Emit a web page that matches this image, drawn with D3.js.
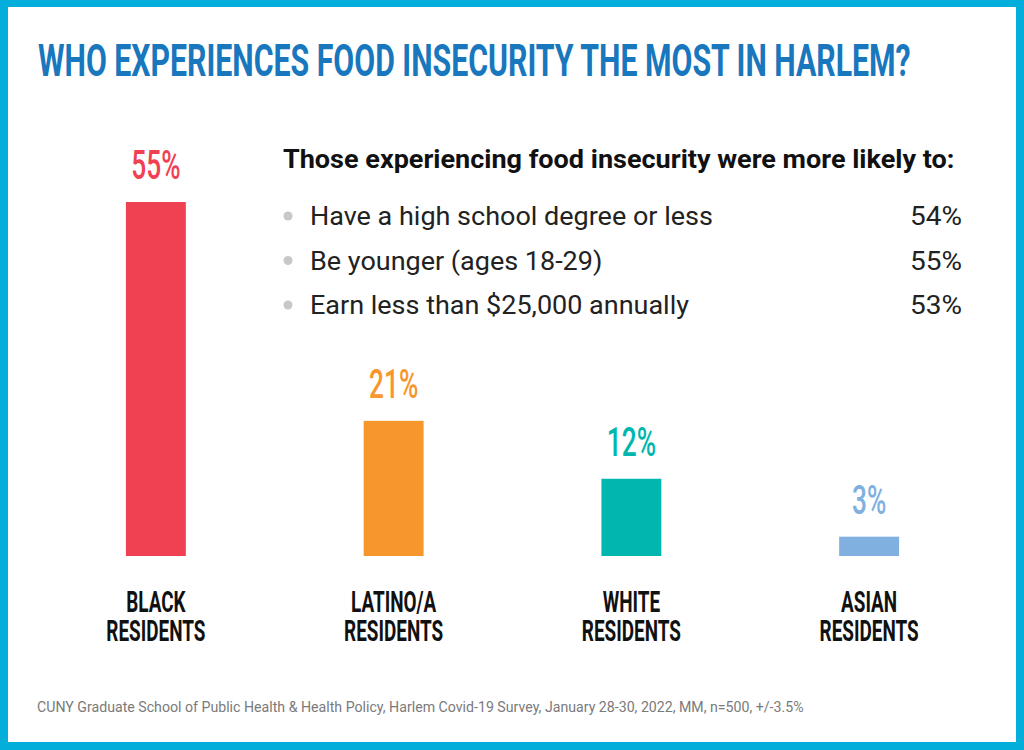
<!DOCTYPE html>
<html>
<head>
<meta charset="utf-8">
<script src="https://cdn.jsdelivr.net/npm/d3@7"></script>
<style>
  html, body { margin: 0; padding: 0; background: #fff; }
  svg { display: block; }
</style>
</head>
<body>
<script>
// ---- data ----
const categories = ["BLACK RESIDENTS", "LATINO/A RESIDENTS", "WHITE RESIDENTS", "ASIAN RESIDENTS"];
const values = [55, 21, 12, 3];
const barColors = ["#EF4152", "#F7962D", "#00B6AE", "#7FB0DF"];
const likelyItems = ["Have a high school degree or less", "Be younger (ages 18-29)", "Earn less than $25,000 annually"];
const likelyValues = [54, 55, 53];
const titleText = "WHO EXPERIENCES FOOD INSECURITY THE MOST IN HARLEM?";
const headingText = "Those experiencing food insecurity were more likely to:";
const sourceText = "CUNY Graduate School of Public Health & Health Policy, Harlem Covid-19 Survey, January 28-30, 2022, MM, n=500, +/-3.5%";

// ---- layout ----
const W = 1024, H = 750;
const FONT = "Roboto, 'Liberation Sans', sans-serif";
const svg = d3.select("body").append("svg").attr("width", W).attr("height", H);

// fit a left-anchored text to a target width by horizontal scaling
function fitText(sel, x0, y0, targetWidth) {
  const w = sel.node().getComputedTextLength();
  sel.attr("x", 0).attr("y", 0)
     .attr("transform", `translate(${x0},${y0}) scale(${targetWidth / w},1)`);
}

// border frame
svg.append("rect").attr("x", 0).attr("y", 0).attr("width", W).attr("height", H).attr("fill", "#03AFDA");
svg.append("rect").attr("x", 8).attr("y", 7).attr("width", W - 16).attr("height", H - 15).attr("fill", "#fff");

// title
const title = svg.append("text")
  .attr("font-family", FONT)
  .attr("font-weight", 700)
  .attr("font-size", 45)
  .attr("fill", "#1877BD")
  .text(titleText);
fitText(title, 38, 76, 873);

// scales
const x = d3.scaleBand().domain(categories).range([37, 988]).paddingInner(0.748).paddingOuter(0.374);
const y = d3.scaleLinear().domain([0, d3.max(values)]).range([556, 202]);

const data = categories.map((c, i) => ({ c, v: values[i], color: barColors[i] }));

// bars
svg.append("g").selectAll("rect").data(data).join("rect")
  .attr("x", d => x(d.c))
  .attr("y", d => y(d.v))
  .attr("width", x.bandwidth())
  .attr("height", d => y(0) - y(d.v))
  .attr("fill", d => d.color);

// value labels
svg.append("g").selectAll("text").data(data).join("text")
  .attr("transform", d => `translate(${x(d.c) + x.bandwidth() / 2},${y(d.v) - 23}) scale(0.64,1)`)
  .attr("text-anchor", "middle")
  .attr("font-family", FONT)
  .attr("font-weight", 500)
  .attr("font-size", 41)
  .attr("fill", d => d.color)
  .text(d => d.v + "%");

// category labels (two lines in one text)
const catText = svg.append("g").selectAll("text").data(data).join("text")
  .attr("transform", d => `translate(${x(d.c) + x.bandwidth() / 2},612) scale(0.63,1)`)
  .attr("text-anchor", "middle")
  .attr("font-family", FONT)
  .attr("font-weight", 700)
  .attr("font-size", 30)
  .attr("fill", "#111");
catText.selectAll("tspan").data(d => d.c.split(" ")).join("tspan")
  .attr("x", 0)
  .attr("dy", (p, i) => i === 0 ? 0 : 29)
  .text(p => p);

// heading
const heading = svg.append("text")
  .attr("font-family", FONT)
  .attr("font-weight", 700)
  .attr("font-size", 25)
  .attr("fill", "#111")
  .text(headingText);
fitText(heading, 283, 168, 672);

// list
const rowY = d3.scalePoint().domain(d3.range(likelyItems.length)).range([225, 314]);
const listG = svg.append("g").selectAll("g").data(likelyItems).join("g")
  .attr("transform", (d, i) => `translate(0,${rowY(i)})`);
listG.append("circle").attr("cx", 288).attr("cy", -9).attr("r", 4.5).attr("fill", "#C8C8C8");
listG.append("text")
  .attr("transform", "translate(310,0) scale(1.08,1)")
  .attr("font-family", FONT)
  .attr("font-size", 25)
  .attr("fill", "#222")
  .text(d => d);
listG.append("text")
  .attr("transform", "translate(962,0) scale(1.12,1)")
  .attr("text-anchor", "end")
  .attr("font-family", FONT)
  .attr("font-size", 25)
  .attr("fill", "#222")
  .text((d, i) => likelyValues[i] + "%");

// source
const source = svg.append("text")
  .attr("font-family", FONT)
  .attr("font-size", 15)
  .attr("fill", "#7a7a7a")
  .text(sourceText);
fitText(source, 37, 712, 767);
</script>
</body>
</html>
